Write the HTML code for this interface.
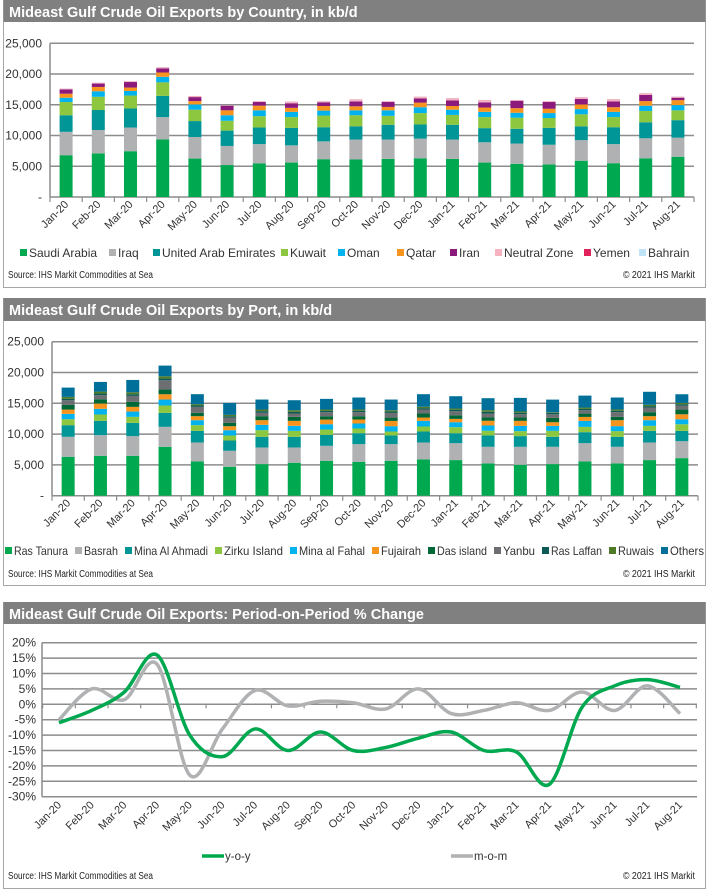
<!DOCTYPE html>
<html><head><meta charset="utf-8"><style>
html,body{margin:0;padding:0;background:#fff;}
svg{display:block;font-family:"Liberation Sans",Arial,sans-serif;}
</style></head><body>
<svg id="s" width="708" height="890" viewBox="0 0 708 890" xmlns="http://www.w3.org/2000/svg">
<g>
<rect x="3.5" y="0.5" width="702" height="287" fill="#fff" stroke="#A6A6A6"/>
<rect x="3.5" y="0" width="702" height="22" fill="#808080"/>
<text x="9" y="17" fill="#fff" font-size="14.5" font-weight="bold">Mideast Gulf Crude Oil Exports by Country, in kb/d</text>
<g id="c1"></g>
<text x="8" y="278" font-size="10" fill="#222" textLength="145" lengthAdjust="spacingAndGlyphs">Source: IHS Markit Commodities at Sea</text>
<text x="695" y="278" font-size="10" fill="#222" text-anchor="end" textLength="72" lengthAdjust="spacingAndGlyphs">© 2021 IHS Markit</text>
</g>
<g>
<rect x="3.5" y="298.5" width="702" height="287" fill="#fff" stroke="#A6A6A6"/>
<rect x="3.5" y="298" width="702" height="23" fill="#808080"/>
<text x="9" y="315" fill="#fff" font-size="14.5" font-weight="bold">Mideast Gulf Crude Oil Exports by Port, in kb/d</text>
<g id="c2"></g>
<text x="8" y="577" font-size="10" fill="#222" textLength="145" lengthAdjust="spacingAndGlyphs">Source: IHS Markit Commodities at Sea</text>
<text x="695" y="577" font-size="10" fill="#222" text-anchor="end" textLength="72" lengthAdjust="spacingAndGlyphs">© 2021 IHS Markit</text>
</g>
<g>
<rect x="3.5" y="602.5" width="702" height="286" fill="#fff" stroke="#A6A6A6"/>
<rect x="3.5" y="602" width="702" height="22" fill="#808080"/>
<text x="9" y="619" fill="#fff" font-size="14.5" font-weight="bold">Mideast Gulf Crude Oil Exports: Period-on-Period % Change</text>
<g id="c3"></g>
<text x="8" y="879" font-size="10" fill="#222" textLength="145" lengthAdjust="spacingAndGlyphs">Source: IHS Markit Commodities at Sea</text>
<text x="695" y="879" font-size="10" fill="#222" text-anchor="end" textLength="72" lengthAdjust="spacingAndGlyphs">© 2021 IHS Markit</text>
</g>
</svg>
<script>
const months = ["Jan-20","Feb-20","Mar-20","Apr-20","May-20","Jun-20","Jul-20","Aug-20","Sep-20","Oct-20","Nov-20","Dec-20","Jan-21","Feb-21","Mar-21","Apr-21","May-21","Jun-21","Jul-21","Aug-21"];
const barTicks = [0,5000,10000,15000,20000,25000];
const barTickLabels = ["-","5,000","10,000","15,000","20,000","25,000"];

const countryNames = ["Saudi Arabia","Iraq","United Arab Emirates","Kuwait","Oman","Qatar","Iran","Neutral Zone","Yemen","Bahrain"];
const saudi  = [6800,7100,7450,9350,6250,5200,5450,5600,6150,6100,6200,6300,6200,5600,5400,5300,5900,5500,6300,6550];
const iraq   = [3800,3800,3850,3650,3500,3100,3150,2800,2900,3250,3150,3200,3150,3300,3300,3200,3350,3100,3250,3100];
const uae    = [2700,3250,3100,3450,2600,2500,2700,2850,2300,2150,2400,2300,2400,2300,2400,2750,2250,2750,2600,2850];
const kuwait = [2150,2150,2100,2200,1850,1600,1850,1750,1900,1800,1450,1850,1600,1800,1800,1600,1950,1650,1850,1600];
const oman   = [700,900,750,900,850,900,950,850,800,800,900,950,850,850,800,800,850,850,850,850];
const qatar  = [650,700,550,700,550,800,750,650,750,650,550,750,600,700,750,700,750,750,750,800];
const iran   = [700,550,900,650,650,750,600,750,600,800,800,700,900,850,1200,1100,900,950,1000,400];
const neutral= [100,100,100,150,150,50,100,250,150,300,100,250,350,350,100,100,250,350,250,150];
const yemen  = [20,20,20,30,20,10,20,20,20,20,20,20,20,20,20,20,20,20,20,20];
const bahrain= [20,20,20,30,20,10,20,20,20,20,20,20,20,20,20,20,20,20,20,20];
const countryColors = ["#00A84F","#B0B1B3","#009597","#8DC63F","#00B2EE","#F7941D","#8B1A7C","#F6B2BE","#E0245B","#BFE3F7"];

const portNames = ["Ras Tanura","Basrah","Mina Al Ahmadi","Zirku Island","Mina al Fahal","Fujairah","Das island","Yanbu","Ras Laffan","Ruwais","Others"];
const rasTanura = [6320,6480,6480,7940,5560,4700,5130,5350,5670,5510,5670,5890,5780,5240,5020,5130,5560,5240,5780,6100];
const basrah    = [3240,3350,3190,3240,3080,2590,2700,2480,2430,2860,2700,2750,2750,2700,2920,2810,2970,2700,2860,2750];
const minaAhmadi= [1890,2320,2160,2270,1890,1670,1730,1730,1780,1780,1400,1780,1620,1840,1730,1620,1780,1620,1890,1670];
const zirku     = [970,1030,970,1190,920,810,1080,970,860,760,650,810,970,760,810,970,860,920,810,1080];
const minaFahal = [860,920,860,970,810,860,860,810,860,810,860,920,810,860,860,810,970,810,920,810];
const fujairah  = [700,860,760,860,650,650,760,810,760,650,860,540,540,760,810,590,650,970,650,810];
const dasIsland = [760,700,810,760,540,540,650,650,540,540,540,650,590,540,540,700,540,540,650,760];
const yanbu     = [760,650,970,1510,970,860,540,540,650,650,760,650,650,650,540,590,540,760,760,650];
const rasLaffan = [220,270,270,270,220,220,270,270,220,220,220,220,220,270,220,220,220,220,220,220];
const ruwais    = [320,320,320,380,220,220,270,270,220,220,220,220,220,270,220,110,220,220,220,220];
const others    = [1510,1570,2000,1730,1620,1940,1620,1620,1730,1940,1730,2050,2000,1940,2210,2050,1940,1940,2110,1400];
const portColors = ["#00A84F","#B0B1B3","#009597","#8DC63F","#00B2EE","#F7941D","#006837","#6D6E71","#0B5A55","#4F7A28","#00709A"];

const yoy = [-6,-2,4,16,-10,-17,-8,-15,-9,-15,-14,-11,-9,-15,-15.5,-26,-1,6,8,5.5];
const mom = [-5,5,1.5,13,-23,-8,4.5,-0.5,1,0.5,-1.5,5,-3,-2,0.5,-2,4,-2,6,-3];
const pctTicks = [-30,-25,-20,-15,-10,-5,0,5,10,15,20];
const pctTickLabels = ["-30%","-25%","-20%","-15%","-10%","-5%","0%","5%","10%","15%","20%"];

const NS="http://www.w3.org/2000/svg";
function mk(parent,tag,attrs,txt){const e=document.createElementNS(NS,tag);for(const k in attrs)e.setAttribute(k,attrs[k]);if(txt!==undefined)e.textContent=txt;parent.appendChild(e);return e;}

function stacked(g,cfg,series,names,colors,prefix){
  const x0=cfg.x0,x1=cfg.x1,yTop=cfg.yTop,yBot=cfg.yBot,max=25000;
  const slot=(x1-x0)/months.length;
  const yS=v=>yBot-(v/max)*(yBot-yTop);
  const xC=i=>x0+slot*(i+0.5);
  barTicks.forEach((t,i)=>{
    if(t>0){const l=mk(g,"line",{x1:x0,x2:x1,y1:yS(t),y2:yS(t),stroke:"#8C8C8C","stroke-width":1.5});
    
    }
    const tx=mk(g,"text",{x:x0-8,y:yS(t)+4,"font-size":12,"text-anchor":"end",fill:"#333"},barTickLabels[i]);
    
    
  });
  mk(g,"line",{x1:x0,x2:x0,y1:yTop,y2:yBot,stroke:"#8C8C8C","stroke-width":1.5});
  const ax=mk(g,"line",{x1:x0,x2:x1,y1:yBot,y2:yBot,stroke:"#8C8C8C","stroke-width":1.5});
  
  
  for(let i=0;i<=months.length;i++) mk(g,"line",{x1:x0+slot*i,x2:x0+slot*i,y1:yBot,y2:yBot+5,stroke:"#8C8C8C","stroke-width":1.2});
  months.forEach((m,i)=>{
    let acc=0;
    series.forEach((s,k)=>{
      const v=s[i];const y1=yS(acc+v),y0=yS(acc);acc+=v;
      const r=mk(g,"rect",{x:xC(i)-6.5,y:y1,width:13,height:Math.max(0,y0-y1),fill:colors[k]});
      
      
    });
    const c=xC(i)+3,yy=yBot+8;
    const t=mk(g,"text",{x:c,y:yy,"font-size":11,"text-anchor":"end",fill:"#333",transform:`rotate(-45 ${c} ${yy})`},m);
    
    
  });
}
function legend(g,names,colors,xs,y,lens){
  names.forEach((n,i)=>{
    const r=mk(g,"rect",{x:xs[i],y:y-8,width:7,height:7,fill:colors[i]});
    
    
    const at={x:xs[i]+9,y:y,"font-size":12,fill:"#333"};
    if(lens){at.textLength=lens[i];at.lengthAdjust="spacingAndGlyphs";}
    const t=mk(g,"text",at,n);
    
    
  });
}
const g1=document.getElementById('c1');
stacked(g1,{x0:50,x1:694,yTop:43.3,yBot:197},[saudi,iraq,uae,kuwait,oman,qatar,iran,neutral,yemen,bahrain],countryNames,countryColors,'country');
legend(g1,countryNames,countryColors,[20,109,153,281,338,397,450,495,584,639],257);
const g2=document.getElementById('c2');
stacked(g2,{x0:52,x1:698,yTop:341.7,yBot:495.7},[rasTanura,basrah,minaAhmadi,zirku,minaFahal,fujairah,dasIsland,yanbu,rasLaffan,ruwais,others],portNames,portColors,'port');
legend(g2,portNames,portColors,[5,75,125,215,290,372,428,494,542,609,661],555,[54,34,74,59,66,40,50,32,51,36,34]);

// line chart
const g3=document.getElementById('c3');
const L={x0:42,x1:697,yTop:642.7,yBot:796.7};
const yP=v=>L.yBot-(v+30)/50*(L.yBot-L.yTop);
const xP=i=>59+(680-59)/19*i;
pctTicks.forEach((t,i)=>{
  const l=mk(g3,"line",{x1:L.x0,x2:L.x1,y1:yP(t),y2:yP(t),stroke:"#8C8C8C","stroke-width":1.5});
  
  
  const tx=mk(g3,"text",{x:36,y:yP(t)+4,"font-size":12,"text-anchor":"end",fill:"#333"},pctTickLabels[i]);
  
  
});
mk(g3,"line",{x1:L.x0,x2:L.x0,y1:L.yTop,y2:L.yBot,stroke:"#8C8C8C","stroke-width":1.5});
for(let i=0;i<=months.length;i++){const xx=xP(i)-(680-59)/38;mk(g3,"line",{x1:xx,x2:xx,y1:yP(0),y2:yP(0)+4,stroke:"#8C8C8C","stroke-width":1.2});}
months.forEach((m,i)=>{
  const c=xP(i)+3,yy=L.yBot+9;
  const t=mk(g3,"text",{x:c,y:yy,"font-size":11,"text-anchor":"end",fill:"#333",transform:`rotate(-45 ${c} ${yy})`},m);
  
  
});
function smooth(vals){
  const p=vals.map((v,i)=>[xP(i),yP(v)]);
  let d=`M${p[0][0]},${p[0][1]}`;
  for(let i=0;i<p.length-1;i++){
    const a=p[i-1]||p[i],b=p[i],c=p[i+1],e=p[i+2]||c;
    const c1=[b[0]+(c[0]-a[0])/6,b[1]+(c[1]-a[1])/6],c2=[c[0]-(e[0]-b[0])/6,c[1]-(e[1]-b[1])/6];
    d+=` C${c1[0]},${c1[1]} ${c2[0]},${c2[1]} ${c[0]},${c[1]}`;
  }
  return d;
}
const pm=mk(g3,"path",{d:smooth(mom),fill:"none",stroke:"#B0B1B3","stroke-width":3.5,"stroke-linejoin":"round"});


const py=mk(g3,"path",{d:smooth(yoy),fill:"none",stroke:"#00A84F","stroke-width":3.5,"stroke-linejoin":"round"});


[["y-o-y","#00A84F",202],["m-o-m","#B0B1B3",451]].forEach(([n,c,x])=>{
  const l=mk(g3,"line",{x1:x,x2:x+22,y1:856,y2:856,stroke:c,"stroke-width":3.5});
  
  
  const t=mk(g3,"text",{x:x+23,y:860,"font-size":11.5,fill:"#333"},n);
  
  
});
</script>
</body></html>
